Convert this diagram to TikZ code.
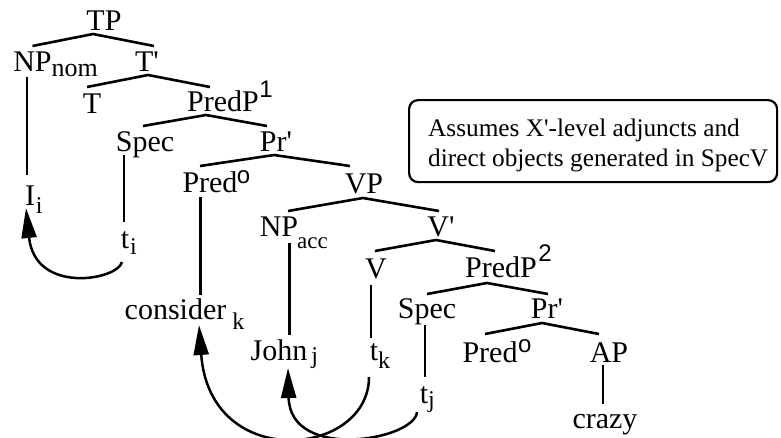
\documentclass[tikz,border=0pt]{standalone}
\usepackage{fontspec}
\setmainfont{Liberation Serif}[Ligatures=TeXOff]
\newfontfamily\supsans{Liberation Sans}
\usetikzlibrary{arrows.meta,calc}
\newcommand{\mysub}[4]{\rlap{\hspace{#1pt}\raisebox{-#2pt}{\fontsize{#3}{#3}\selectfont #4}}}
\newcommand{\mysup}[3]{\rlap{\hspace{#1pt}\raisebox{#2pt}{\fontsize{24}{24}\selectfont\supsans #3}}}
\begin{document}
\begin{tikzpicture}[x=1pt,y=-1pt,
  lbl/.style={inner sep=0pt, anchor=base, font=\fontsize{30}{36}\selectfont},
  notetxt/.style={inner sep=0pt, anchor=base west, font=\fontsize{25.3}{30}\selectfont},
  br/.style={line width=2.6pt},
  vl/.style={line width=2.2pt},
  mv/.style={line width=2.5pt, -{Triangle[length=30pt,width=15pt]}}]
\fill[white] (0,0) rectangle (781,437);
\useasboundingbox (0,0) rectangle (781,437);

% labels
\node[lbl] (TP) at (104,30) {TP};
\node[lbl] (NPn) at (32.5,71) {NP\mysub{0}{5}{26}{nom}};
\node[lbl] (Tb) at (147,71) {T'};
\node[lbl] (T) at (92,113) {T};
\node[lbl] (PP1) at (223,111) {PredP\mysup{0.5}{14}{1}};
\node[lbl] (Sp1) at (145,151) {Spec};
\node[lbl] (Pr1) at (276,151) {Pr'};
\node[lbl] (Pd1) at (210,192) {Pred\mysup{-0.5}{9}{o}};
\node[lbl] (VP) at (364,193) {VP};
\node[lbl] (NPa) at (279,236) {NP\mysub{-1}{12}{23}{acc}};
\node[lbl] (Vb) at (441,236) {V'};
\node[lbl] (Ii) at (30,205) {I\mysub{1}{8}{24}{i}};
\node[lbl] (ti) at (125,248) {t\mysub{1}{6}{24}{i}};
\node[lbl] (V) at (376,278) {V};
\node[lbl] (PP2) at (501,277) {PredP\mysup{1.5}{16}{2}};
\node[lbl] (cons) at (175.5,319) {consider\mysub{6}{10}{24}{k}};
\node[lbl] (Sp2) at (427,318) {Spec};
\node[lbl] (Pr2) at (547,318) {Pr'};
\node[lbl] (John) at (279,360) {John\mysub{4}{3}{24}{j}};
\node[lbl] (tk) at (374,360) {t\mysub{0}{8}{24}{k}};
\node[lbl] (Pd2) at (490,362) {Pred\mysup{0.5}{10}{o}};
\node[lbl] (AP) at (609,362) {AP};
\node[lbl] (tj) at (424,403) {t\mysub{0}{4}{24}{j}};
\node[lbl] (crazy) at (605,428) {crazy};

% note box
\node[draw, rounded corners=9pt, line width=2.2pt, minimum width=368pt, minimum height=82pt,
      inner sep=0pt, anchor=north west] (note) at (408,99) {};
\node[notetxt] (note1) at (428,136) {Assumes X'-level adjuncts and};
\node[notetxt] (note2) at (428,166) {direct objects generated in SpecV};

% branches
\draw[br] ($(NPn.base)+(0,-25)$) -- ($(TP.base)+(-11,4)$) -- ($(Tb.base)+(7,-25)$);
\draw[br] ($(T.base)+(-5,-26)$) -- ($(Tb.base)+(1,4)$) -- ($(PP1.base)+(-13,-24)$);
\draw[br] ($(Sp1.base)+(-2,-25)$) -- ($(PP1.base)+(-17,4)$) -- ($(Pr1.base)+(-9,-25)$);
\draw[br] ($(Pd1.base)+(-10,-26)$) -- ($(Pr1.base)+(-2,4)$) -- ($(VP.base)+(-14,-27)$);
\draw[br] ($(NPa.base)+(9,-25)$) -- ($(VP.base)+(-1,5)$) -- ($(Vb.base)+(-2,-25)$);
\draw[br] ($(V.base)+(-1,-27)$) -- ($(Vb.base)+(-5,4)$) -- ($(PP2.base)+(-6,-26)$);
\draw[br] ($(Sp2.base)+(0,-24)$) -- ($(PP2.base)+(-14,6)$) -- ($(Pr2.base)+(1,-24)$);
\draw[br] ($(Pd2.base)+(-5,-28)$) -- ($(Pr2.base)+(-5,5)$) -- ($(AP.base)+(-10,-28)$);

% verticals
\draw[vl] ($(NPn.base)+(-5.5,6)$) -- ($(Ii.base)+(-3,-30)$);
\draw[vl] ($(Sp1.base)+(-21,4)$) -- ($(ti.base)+(-1,-26)$);
\draw[vl] ($(Pd1.base)+(-9.5,5)$) -- ($(cons.base)+(25,-24)$);
\draw[vl] ($(NPa.base)+(10.5,7)$) -- ($(John.base)+(10.5,-25)$);
\draw[vl] ($(V.base)+(-5,7)$) -- ($(tk.base)+(-3,-22)$);
\draw[vl] ($(Sp2.base)+(-2,7)$) -- ($(tj.base)+(1,-26)$);
\draw[vl] ($(AP.base)+(-6,3)$) -- ($(crazy.base)+(-2,-24)$);

% movement arrows
\draw[mv] ($(ti.base)+(-3,14)$) .. controls +(-4,18) and +(9,87) .. ($(Ii.base)+(-4,3)$);
\draw[mv] ($(tk.base)+(-5,17)$) .. controls +(0,80) and +(11,148) .. ($(cons.base)+(23.5,6)$);
\draw[mv] ($(tj.base)+(-7,9)$) .. controls +(-2,28) and +(2,94) .. ($(John.base)+(9,8)$);
\end{tikzpicture}
\end{document}
